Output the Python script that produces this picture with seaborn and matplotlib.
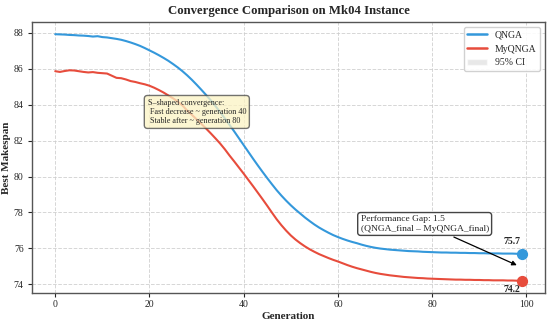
import numpy as np
import pandas as pd
import matplotlib
matplotlib.use('Agg')
import matplotlib.pyplot as plt
from matplotlib.patches import Patch
from matplotlib.lines import Line2D
import seaborn as sns

# Best makespan per generation
generations = list(range(100))
qnga = [87.93, 87.92, 87.91, 87.89, 87.88, 87.86, 87.85, 87.83, 87.80, 87.82,
        87.77, 87.75, 87.71, 87.67, 87.62, 87.55, 87.47, 87.38, 87.28, 87.16,
        87.03, 86.90, 86.76, 86.61, 86.45, 86.27, 86.08, 85.87, 85.64, 85.39,
        85.12, 84.84, 84.55, 84.25, 83.93, 83.59, 83.24, 82.88, 82.51, 82.13,
        81.75, 81.37, 80.99, 80.62, 80.26, 79.91, 79.57, 79.24, 78.94, 78.66,
        78.40, 78.16, 77.94, 77.72, 77.52, 77.33, 77.16, 77.01, 76.87, 76.74,
        76.63, 76.53, 76.44, 76.36, 76.29, 76.21, 76.14, 76.08, 76.03, 75.99,
        75.96, 75.93, 75.91, 75.89, 75.87, 75.85, 75.84, 75.83, 75.81, 75.80,
        75.79, 75.78, 75.77, 75.77, 75.76, 75.76, 75.75, 75.75, 75.74, 75.74,
        75.73, 75.73, 75.72, 75.72, 75.72, 75.71, 75.71, 75.71, 75.70, 75.70]
myqnga = [85.87, 85.83, 85.88, 85.92, 85.91, 85.87, 85.83, 85.80, 85.82, 85.78,
          85.76, 85.74, 85.62, 85.50, 85.48, 85.41, 85.32, 85.27, 85.20, 85.14,
          85.06, 84.95, 84.82, 84.68, 84.52, 84.36, 84.18, 83.96, 83.68, 83.44,
          83.19, 82.94, 82.68, 82.41, 82.13, 81.84, 81.52, 81.17, 80.84, 80.50,
          80.16, 79.81, 79.46, 79.10, 78.74, 78.37, 77.99, 77.62, 77.29, 76.99,
          76.72, 76.49, 76.29, 76.11, 75.95, 75.81, 75.68, 75.57, 75.46, 75.36,
          75.27, 75.17, 75.07, 74.98, 74.90, 74.83, 74.76, 74.69, 74.63, 74.58,
          74.54, 74.50, 74.47, 74.44, 74.41, 74.39, 74.37, 74.35, 74.34, 74.32,
          74.31, 74.30, 74.29, 74.28, 74.27, 74.26, 74.26, 74.25, 74.25, 74.24,
          74.24, 74.23, 74.23, 74.22, 74.22, 74.22, 74.21, 74.21, 74.20, 74.20]
final_qnga = 75.7
final_myqnga = 74.2

blue = '#3498db'
red = '#e74c3c'

sns.set_style('whitegrid')
plt.rcParams['font.family'] = ['Liberation Serif', 'DejaVu Serif']

df = pd.DataFrame({'Generation': generations, 'QNGA': qnga, 'MyQNGA': myqnga})
df = df.melt(id_vars='Generation', var_name='Algorithm', value_name='Best Makespan')

fig, ax = plt.subplots(figsize=(5.5, 3.22), dpi=100)
fig.subplots_adjust(left=0.058, right=0.991, top=0.932, bottom=0.09)

sns.lineplot(data=df, x='Generation', y='Best Makespan', hue='Algorithm',
             palette={'QNGA': blue, 'MyQNGA': red}, linewidth=1.5, ax=ax,
             legend=False)

# final points
ax.scatter([generations[-1]], [final_qnga], color=blue, s=50, zorder=5)
ax.scatter([generations[-1]], [final_myqnga], color=red, s=50, zorder=5)
ax.text(97, final_qnga + 0.68, f'{final_qnga:.1f}', ha='center', va='center',
        fontsize=7, fontweight='bold')
ax.text(97, final_myqnga - 0.47, f'{final_myqnga:.1f}', ha='center', va='center',
        fontsize=7, fontweight='bold')

ax.text(19.6, 83.6, 'S–shaped convergence:\n Fast decrease ~ generation 40\n Stable after ~ generation 80',
        fontsize=5.9, ha='left', va='center',
        bbox=dict(boxstyle='round,pad=0.4', facecolor='#fcf3c4', edgecolor='#444444',
                  alpha=0.75))

gap = final_qnga - final_myqnga
ax.annotate(f'Performance Gap: {gap:.1f}\n(QNGA_final – MyQNGA_final)',
            xy=(98.5, 75.0), xytext=(78.4, 77.36), fontsize=6.8,
            ha='center', va='center', multialignment='left',
            bbox=dict(boxstyle='round,pad=0.3', facecolor='white', edgecolor='#444444'),
            arrowprops=dict(arrowstyle='-|>', color='black', lw=0.9))

handles = [Line2D([0], [0], color=blue, lw=1.8, label='QNGA'),
           Line2D([0], [0], color=red, lw=1.8, label='MyQNGA'),
           Patch(facecolor='lightgray', alpha=0.5, label='95% CI')]
ax.legend(handles=handles, loc='upper right', fontsize=7, frameon=True,
          framealpha=0.9, edgecolor='#cccccc')

ax.set_title('Convergence Comparison on Mk04 Instance', fontsize=9.2, fontweight='bold')
ax.set_xlabel('Generation', fontsize=8, fontweight='bold', labelpad=2)
ax.set_ylabel('Best Makespan', fontsize=8, fontweight='bold', labelpad=2)
ax.set_xticks([0, 20, 40, 60, 80, 100])
ax.set_yticks([74, 76, 78, 80, 82, 84, 86, 88])
ax.tick_params(labelsize=7, length=3, left=True, bottom=True)
ax.tick_params(axis='x', pad=2)
ax.tick_params(axis='y', pad=3)
ax.grid(True, linestyle='--', color='#cccccc', linewidth=0.7, alpha=0.8)
for s in ax.spines.values():
    s.set_color('#555555')
    s.set_linewidth(1.0)

plt.savefig('out.png', dpi=100)
